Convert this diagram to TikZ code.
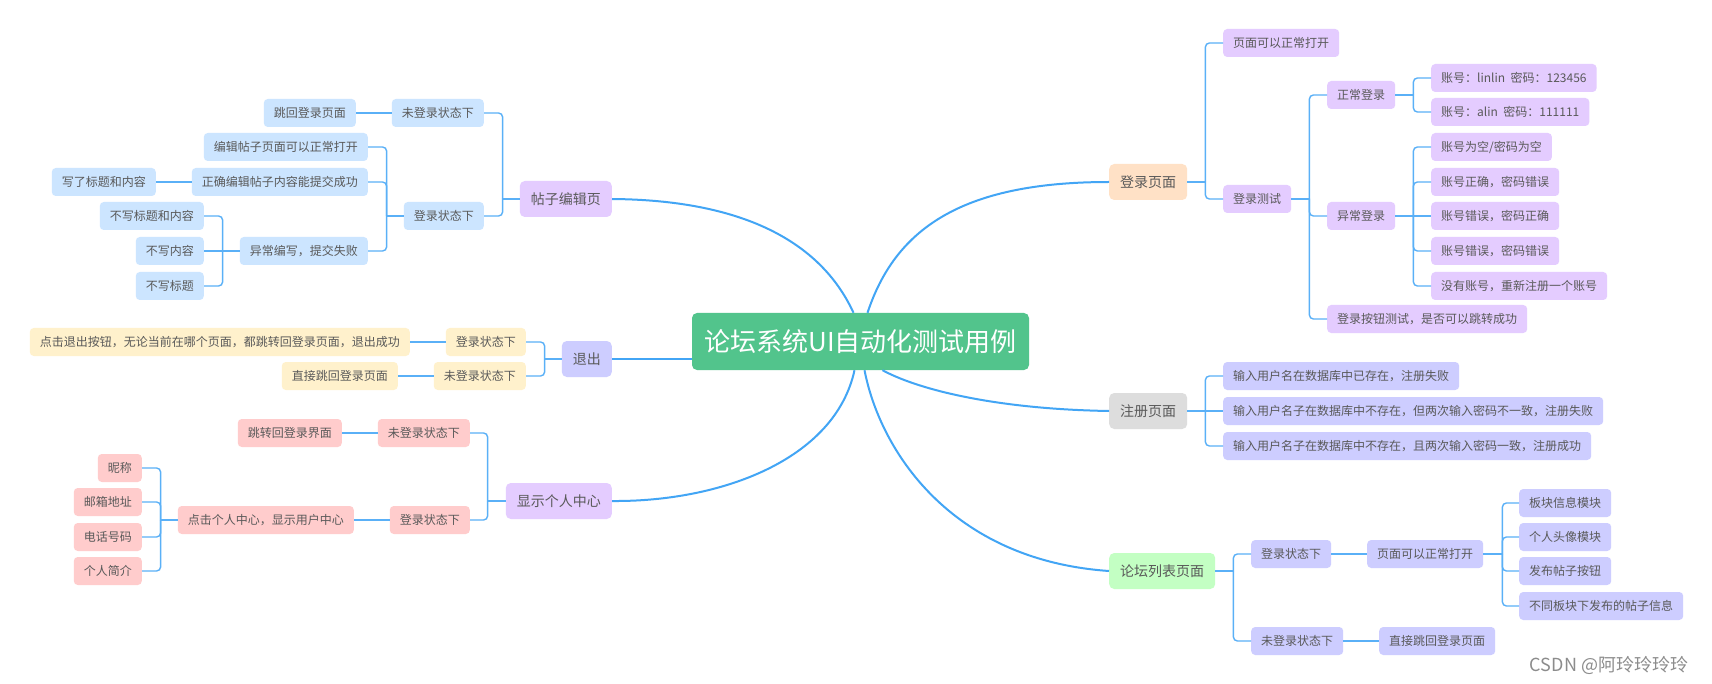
\documentclass[tikz,border=0pt]{standalone}
\usepackage{fontspec}
\setmainfont{Noto Sans CJK SC}
\usetikzlibrary{positioning}

\definecolor{cgreen}{HTML}{52C48C}
\definecolor{linkblue}{HTML}{42A5F5}
\definecolor{sublink}{HTML}{5AB0F7}
\definecolor{txtgray}{HTML}{595959}
\definecolor{lav}{HTML}{E4CCFF}
\definecolor{peri}{HTML}{CDCDFF}
\definecolor{peach}{HTML}{FFE1C6}
\definecolor{lgray}{HTML}{DDDDDD}
\definecolor{lgreen}{HTML}{C3FFC3}
\definecolor{lblue}{HTML}{CCE5FF}
\definecolor{lyellow}{HTML}{FFF1CC}
\definecolor{lpink}{HTML}{FFCCCC}

\tikzset{
  leaf/.style={rectangle, rounded corners=4pt, inner xsep=10pt, inner ysep=0pt,
    minimum height=28pt, text=txtgray, font=\fontsize{12}{14}\selectfont},
  branch/.style={rectangle, rounded corners=5pt, inner xsep=11pt, inner ysep=0pt,
    minimum height=36pt, text=txtgray, font=\fontsize{14}{16}\selectfont},
  link/.style={draw=sublink, line width=1.4pt, rounded corners=4pt},
  mainlink/.style={draw=linkblue, line width=2pt},
}

\begin{document}
\begin{tikzpicture}[x=1pt, y=-1pt]
        \fill[white] (0,0) rectangle (1712,684);
        \useasboundingbox (0,0) rectangle (1712,684);

        % Centre
        \node[rectangle, rounded corners=5pt, fill=cgreen, text=white, minimum width=337pt,
          minimum height=57pt, font=\fontsize{26}{30}\selectfont] (cen) at (860.5,341.5) {论坛系统UI自动化测试用例};

        % Right: login page
        \node[branch, fill=peach, anchor=west] (dl) at (1109,182) {登录页面};
        \node[leaf, fill=lav, anchor=west] (dl1) at (1223,43) {页面可以正常打开};
        \node[leaf, fill=lav, anchor=west] (dlcs) at (1223,199) {登录测试};
        \node[leaf, fill=lav, anchor=west] (zcdl) at (1327,95) {正常登录};
        \node[leaf, fill=lav, anchor=west] (ycdl) at (1327,216) {异常登录};
        \node[leaf, fill=lav, anchor=west] (dlan) at (1327,319) {登录按钮测试，是否可以跳转成功};
        \node[leaf, fill=lav, anchor=west] (zc1) at (1431,78) {账号：linlin\ \ 密码：123456};
        \node[leaf, fill=lav, anchor=west] (zc2) at (1431,112) {账号：alin\ \ 密码：111111};
        \node[leaf, fill=lav, anchor=west] (yc1) at (1431,147) {账号为空/密码为空};
        \node[leaf, fill=lav, anchor=west] (yc2) at (1431,182) {账号正确，密码错误};
        \node[leaf, fill=lav, anchor=west] (yc3) at (1431,216) {账号错误，密码正确};
        \node[leaf, fill=lav, anchor=west] (yc4) at (1431,251) {账号错误，密码错误};
        \node[leaf, fill=lav, anchor=west] (yc5) at (1431,286) {没有账号，重新注册一个账号};

        % Right: register page
        \node[branch, fill=lgray, anchor=west] (reg) at (1109,411) {注册页面};
        \node[leaf, fill=peri, anchor=west] (reg1) at (1223,376) {输入用户名在数据库中已存在，注册失败};
        \node[leaf, fill=peri, anchor=west] (reg2) at (1223,411) {输入用户名子在数据库中不存在，但两次输入密码不一致，注册失败};
        \node[leaf, fill=peri, anchor=west] (reg3) at (1223,446) {输入用户名子在数据库中不存在，且两次输入密码一致，注册成功};

        % Right: forum list page
        \node[branch, fill=lgreen, anchor=west] (lt) at (1109,571) {论坛列表页面};
        \node[leaf, fill=peri, anchor=west] (ltdl) at (1251,554) {登录状态下};
        \node[leaf, fill=peri, anchor=west] (ltwdl) at (1251,641) {未登录状态下};
        \node[leaf, fill=peri, anchor=west] (ltym) at (1367,554) {页面可以正常打开};
        \node[leaf, fill=peri, anchor=west] (lttz) at (1379,641) {直接跳回登录页面};
        \node[leaf, fill=peri, anchor=west] (ltyma) at (1519,503) {板块信息模块};
        \node[leaf, fill=peri, anchor=west] (ltymb) at (1519,537) {个人头像模块};
        \node[leaf, fill=peri, anchor=west] (ltymc) at (1519,571) {发布帖子按钮};
        \node[leaf, fill=peri, anchor=west] (ltymd) at (1519,606) {不同板块下发布的帖子信息};

        % Left: post edit page
        \node[branch, fill=lav, anchor=east] (tz) at (612,199) {帖子编辑页};
        \node[leaf, fill=lblue, anchor=east] (tzw) at (484,113) {未登录状态下};
        \node[leaf, fill=lblue, anchor=east] (tzwj) at (356,113) {跳回登录页面};
        \node[leaf, fill=lblue, anchor=east] (tzd) at (484,216) {登录状态下};
        \node[leaf, fill=lblue, anchor=east] (tzd1) at (368,147) {编辑帖子页面可以正常打开};
        \node[leaf, fill=lblue, anchor=east] (tzd2) at (368,182) {正确编辑帖子内容能提交成功};
        \node[leaf, fill=lblue, anchor=east] (tzd2a) at (156,182) {写了标题和内容};
        \node[leaf, fill=lblue, anchor=east] (tzd3) at (368,251) {异常编写，提交失败};
        \node[leaf, fill=lblue, anchor=east] (tzd3a) at (204,216) {不写标题和内容};
        \node[leaf, fill=lblue, anchor=east] (tzd3b) at (204,251) {不写内容};
        \node[leaf, fill=lblue, anchor=east] (tzd3c) at (204,286) {不写标题};

        % Left: logout
        \node[branch, fill=peri, anchor=east] (tc) at (612,359) {退出};
        \node[leaf, fill=lyellow, anchor=east] (tcd) at (526,342) {登录状态下};
        \node[leaf, fill=lyellow, anchor=east] (tcda) at (410,342) {点击退出按钮，无论当前在哪个页面，都跳转回登录页面，退出成功};
        \node[leaf, fill=lyellow, anchor=east] (tcw) at (526,376) {未登录状态下};
        \node[leaf, fill=lyellow, anchor=east] (tcwa) at (398,376) {直接跳回登录页面};

        % Left: personal centre
        \node[branch, fill=lav, anchor=east] (gr) at (612,501) {显示个人中心};
        \node[leaf, fill=lpink, anchor=east] (grw) at (470,433) {未登录状态下};
        \node[leaf, fill=lpink, anchor=east] (grwa) at (342,433) {跳转回登录界面};
        \node[leaf, fill=lpink, anchor=east] (grd) at (470,520) {登录状态下};
        \node[leaf, fill=lpink, anchor=east] (grda) at (354,520) {点击个人中心，显示用户中心};
        \node[leaf, fill=lpink, anchor=east] (grb1) at (142,468) {昵称};
        \node[leaf, fill=lpink, anchor=east] (grb2) at (142,502) {邮箱地址};
        \node[leaf, fill=lpink, anchor=east] (grb3) at (142,537) {电话号码};
        \node[leaf, fill=lpink, anchor=east] (grb4) at (142,571) {个人简介};

        % Watermark
        \node[text=black!45, font=\fontsize{18}{20}\selectfont] (wm) at (1609,665) {CSDN @阿玲玲玲玲};

        % Main branches
        \draw[mainlink] ([xshift=7pt]cen.north) .. controls (895,230) and (960,182) .. (dl.west);
        \draw[mainlink] ([xshift=22pt]cen.south) .. controls (915,388) and (990,409) .. (reg.west);
        \draw[mainlink] ([xshift=4pt]cen.south) .. controls (880,450) and (950,560) .. (lt.west);
        \draw[mainlink] ([xshift=-7pt]cen.north) .. controls (820,240) and (740,200) .. (tz.east);
        \draw[mainlink] (tc.east) -- (tc.east -| cen.west);
        \draw[mainlink] ([xshift=-6pt]cen.south) .. controls (835,460) and (720,502) .. (gr.east);

        % Login page connectors
        \draw[link] (dl.east) -- ++(18,0) coordinate (dlj);
        \draw[link] (dlj) |- (dl1.west);
        \draw[link] (dlj) |- (dlcs.west);
        \draw[link] (dlcs.east) -- ++(18,0) coordinate (dlcsj);
        \draw[link] (dlcsj) |- (zcdl.west);
        \draw[link] (dlcsj) |- (ycdl.west);
        \draw[link] (dlcsj) |- (dlan.west);
        \draw[link] (zcdl.east) -- ++(18,0) coordinate (zcdlj);
        \draw[link] (zcdlj) |- (zc1.west);
        \draw[link] (zcdlj) |- (zc2.west);
        \draw[link] (ycdl.east) -- ++(18,0) coordinate (ycdlj);
        \draw[link] (ycdlj) |- (yc1.west);
        \draw[link] (ycdlj) |- (yc2.west);
        \draw[link] (ycdlj) -- (yc3.west);
        \draw[link] (ycdlj) |- (yc4.west);
        \draw[link] (ycdlj) |- (yc5.west);

        % Register page connectors
        \draw[link] (reg.east) -- ++(18,0) coordinate (regj);
        \draw[link] (regj) |- (reg1.west);
        \draw[link] (regj) -- (reg2.west);
        \draw[link] (regj) |- (reg3.west);

        % Forum list connectors
        \draw[link] (lt.east) -- ++(18,0) coordinate (ltj);
        \draw[link] (ltj) |- (ltdl.west);
        \draw[link] (ltj) |- (ltwdl.west);
        \draw[link] (ltdl) -- (ltym);
        \draw[link] (ltwdl) -- (lttz);
        \draw[link] (ltym.east) -- ++(19,0) coordinate (ltymj);
        \draw[link] (ltymj) |- (ltyma.west);
        \draw[link] (ltymj) |- (ltymb.west);
        \draw[link] (ltymj) |- (ltymc.west);
        \draw[link] (ltymj) |- (ltymd.west);

        % Post edit connectors
        \draw[link] (tz.west) -- ++(-17,0) coordinate (tzj);
        \draw[link] (tzj) |- (tzw.east);
        \draw[link] (tzj) |- (tzd.east);
        \draw[link] (tzw) -- (tzwj);
        \draw[link] (tzd.west) -- ++(-17,0) coordinate (tzdj);
        \draw[link] (tzdj) |- (tzd1.east);
        \draw[link] (tzdj) |- (tzd2.east);
        \draw[link] (tzdj) |- (tzd3.east);
        \draw[link] (tzd2) -- (tzd2a);
        \draw[link] (tzd3.west) -- ++(-17,0) coordinate (tzd3j);
        \draw[link] (tzd3j) |- (tzd3a.east);
        \draw[link] (tzd3j) -- (tzd3b.east);
        \draw[link] (tzd3j) |- (tzd3c.east);

        % Logout connectors
        \draw[link] (tc.west) -- ++(-17,0) coordinate (tcj);
        \draw[link] (tcj) |- (tcd.east);
        \draw[link] (tcj) |- (tcw.east);
        \draw[link] (tcd) -- (tcda);
        \draw[link] (tcw) -- (tcwa);

        % Personal centre connectors
        \draw[link] (gr.west) -- ++(-18,0) coordinate (grj);
        \draw[link] (grj) |- (grw.east);
        \draw[link] (grj) |- (grd.east);
        \draw[link] (grw) -- (grwa);
        \draw[link] (grd) -- (grda);
        \draw[link] (grda.west) -- ++(-17,0) coordinate (grdaj);
        \draw[link] (grdaj) |- (grb1.east);
        \draw[link] (grdaj) |- (grb2.east);
        \draw[link] (grdaj) |- (grb3.east);
        \draw[link] (grdaj) |- (grb4.east);
\end{tikzpicture}
\end{document}
